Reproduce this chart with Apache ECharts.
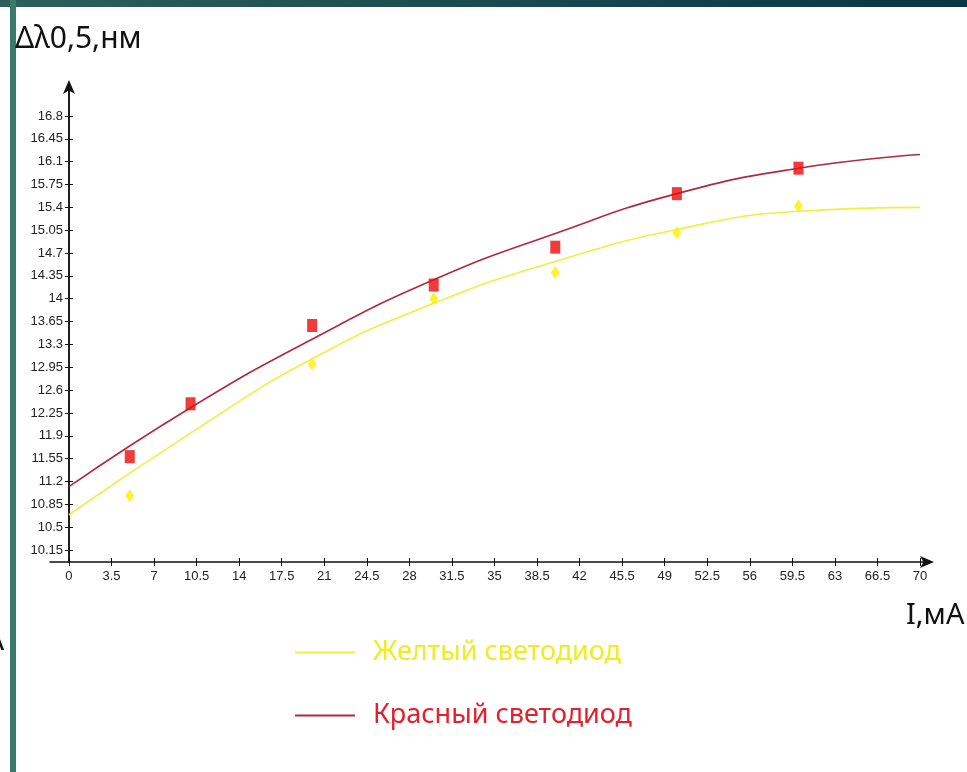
<!DOCTYPE html>
<html>
<head>
<meta charset="utf-8">
<script src="https://cdn.jsdelivr.net/npm/echarts@6/dist/echarts.min.js"></script>
<style>
html, body { margin: 0; padding: 0; background: #fff; }
#chart { width: 967px; height: 772px; }
</style>
</head>
<body>
<div id="chart"></div>
<script>
// значения
var yellowPoints = [[5, 10.98], [20, 13.0], [30, 14.0], [40, 14.40], [50, 15.01], [60, 15.42]];
var redPoints = [[5, 11.58], [10, 12.39], [20, 13.59], [30, 14.21], [40, 14.79], [50, 15.61], [60, 16.0]];
var yellowCurve = [[0, 10.69], [10, 11.94], [20, 13.08], [30, 13.93], [40, 14.57], [50, 15.06], [60, 15.34], [70, 15.40]];
var redCurve = [[0, 11.12], [10, 12.33], [20, 13.38], [30, 14.29], [40, 15.0], [50, 15.61], [60, 16.0], [70, 16.21]];
var xTicks = [0, 3.5, 7, 10.5, 14, 17.5, 21, 24.5, 28, 31.5, 35, 38.5, 42, 45.5, 49, 52.5, 56, 59.5, 63, 66.5, 70];
var yTicks = [10.15, 10.5, 10.85, 11.2, 11.55, 11.9, 12.25, 12.6, 12.95, 13.3, 13.65, 14, 14.35, 14.7, 15.05, 15.4, 15.75, 16.1, 16.45, 16.8];

var chart = echarts.init(document.getElementById('chart'));
var tickFont = { fontFamily: '"Liberation Sans", Arial, sans-serif', fontSize: 13, color: '#222' };
var axisLineStyle = { color: '#111', width: 1.5 };

var option = {
  backgroundColor: '#fff',
  animation: false,
  grid: { left: 50, right: 37, top: 84, bottom: 210, containLabel: false },
  xAxis: [
    {
      type: 'value', min: -1.56, max: 70.82,
      axisLine: { show: true, lineStyle: axisLineStyle, symbol: ['none', 'arrow'], symbolSize: [9, 14], symbolOffset: [0, 4] },
      axisTick: { show: true, length: 4, lineStyle: { color: '#111' }, customValues: xTicks },
      axisLabel: Object.assign({ margin: 8, customValues: xTicks }, tickFont),
      splitLine: { show: false }
    },
    {
      type: 'value', min: -1.56, max: 70.82, position: 'bottom',
      axisLine: { show: false },
      axisTick: { show: true, inside: true, length: 4, lineStyle: { color: '#111' }, customValues: xTicks },
      axisLabel: { show: false },
      splitLine: { show: false }
    }
  ],
  yAxis: [
    {
      type: 'value', min: 9.966, max: 17.29,
      axisLine: { show: true, onZero: true, lineStyle: axisLineStyle, symbol: ['none', 'arrow'], symbolSize: [9, 14], symbolOffset: [0, 4] },
      axisTick: { show: true, length: 4, lineStyle: { color: '#111' }, customValues: yTicks },
      // подписи остаются у края сетки, поэтому сдвиг отрицательный
      axisLabel: Object.assign({ margin: -13, customValues: yTicks }, tickFont),
      splitLine: { show: false }
    },
    {
      type: 'value', min: 9.966, max: 17.29, position: 'left',
      axisLine: { show: true, onZero: true, lineStyle: { color: '#111', width: 1.5 } },
      axisTick: { show: true, inside: true, length: 4, lineStyle: { color: '#111' }, customValues: yTicks },
      axisLabel: { show: false },
      splitLine: { show: false }
    }
  ],
  legend: {
    orient: 'vertical',
    left: 290, top: 634,
    itemWidth: 60, itemHeight: 2, itemGap: 36,
    icon: 'rect',
    textStyle: { fontFamily: '"Noto Sans", sans-serif', fontSize: 27, padding: [0, 0, 0, 13] },
    data: [
      { name: 'Желтый светодиод', textStyle: { color: '#efec22' } },
      { name: 'Красный светодиод', textStyle: { color: '#e4202c' } }
    ]
  },
  graphic: [
    { type: 'rect', left: 0, top: 0, shape: { width: 967, height: 7 },
      style: { fill: new echarts.graphic.LinearGradient(0, 0, 1, 0, [{ offset: 0, color: '#2d605b' }, { offset: 1, color: '#0b3444' }]) } },
    { type: 'rect', left: 10, top: 0, shape: { width: 6, height: 772 }, style: { fill: '#3a7a6d' } },
    { type: 'text', left: 15, top: 24, style: { text: 'Δλ0,5,нм', fontFamily: '"Noto Sans", sans-serif', fontSize: 30, fill: '#111' } },
    { type: 'text', left: 906, top: 601, style: { text: 'I,мА', fontFamily: '"Noto Sans", sans-serif', fontSize: 29, fill: '#111' } },
    { type: 'text', left: -15, top: 626, style: { text: 'А', fontFamily: '"Noto Sans", sans-serif', fontSize: 30, fill: '#111' } }
  ],
  series: [
    {
      name: 'Желтый светодиод', type: 'line', data: yellowCurve, smooth: true,
      showSymbol: false, lineStyle: { color: '#f0ee40', width: 1.6 }, itemStyle: { color: '#f0ee40' }, z: 2
    },
    {
      name: 'Красный светодиод', type: 'line', data: redCurve, smooth: true,
      showSymbol: false, lineStyle: { color: '#b02a3c', width: 1.6 }, itemStyle: { color: '#b02a3c' }, z: 2
    },
    {
      name: 'желтые точки', type: 'scatter', data: yellowPoints, symbol: 'diamond', symbolSize: [9, 13],
      itemStyle: { color: '#ffee00' }, z: 3
    },
    {
      name: 'красные точки', type: 'scatter', data: redPoints, symbol: 'rect', symbolSize: [10, 13],
      itemStyle: { color: '#ee0a0a' }, z: 3
    }
  ]
};
chart.setOption(option);
</script>
</body>
</html>
